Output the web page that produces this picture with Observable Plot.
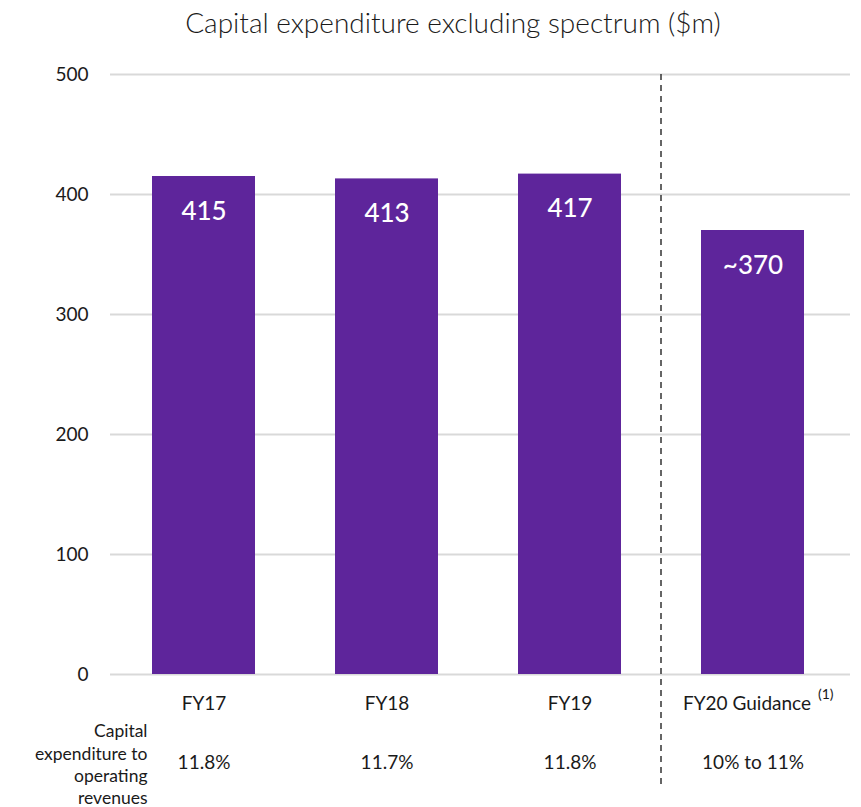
<!DOCTYPE html>
<html><head><meta charset="utf-8">
<script src="https://cdn.jsdelivr.net/npm/d3@7"></script>
<script src="https://cdn.jsdelivr.net/npm/@observablehq/plot@0.6"></script>
<style>
body{margin:0;background:#fff;font-family:Lato,"Noto Sans",sans-serif;}
#title{height:44px;line-height:44px;padding-left:45px;text-align:center;font-size:28px;font-weight:300;color:#1a1a1a;}
</style></head>
<body>
<div id="title">Capital expenditure excluding spectrum ($m)</div>
<div id="chart"></div>
<script>
const categories = ["FY17", "FY18", "FY19", "FY20 Guidance"];
const values = [415, 413, 417, 370];
const valueLabels = ["415", "413", "417", "~370"];
const ratioLabels = ["11.8%", "11.7%", "11.8%", "10% to 11%"];
const rowLabel = "Capital\nexpenditure to\noperating\nrevenues";
const footnote = "(1)";
const yTicks = [0, 100, 200, 300, 400, 500];

const data = categories.map((c, i) => ({cat: c, value: values[i], label: valueLabels[i], ratio: ratioLabels[i]}));
const purple = "#5E259B";
const ink = "#1a1a1a";

const plot = Plot.plot({
  width: 861,
  height: 763,
  marginTop: 30,
  marginBottom: 133,
  marginLeft: 110,
  marginRight: 11,
  style: {fontFamily: "Lato, 'Noto Sans', sans-serif", color: ink, background: "#fff"},
  x: {domain: categories, paddingInner: 0.435, paddingOuter: 0.2284, align: 0.48, axis: null},
  y: {domain: [0, 500], axis: null},
  marks: [
    Plot.ruleY(yTicks, {stroke: "#d9d9d9", strokeWidth: 2}),
    Plot.axisY(yTicks, {tickSize: 0, tickPadding: 22, fontSize: 19, fill: ink, label: null}),
    Plot.barY(data, {x: "cat", y: "value", fill: purple}),
    Plot.text(data, {x: "cat", y: "value", text: "label", dy: 35, fill: "white", fontSize: 26, fontWeight: 500}),
    Plot.ruleX(categories.slice(3), {x: d => d, y1: 500, y2: -92, dx: -92, stroke: "#333", strokeWidth: 1.5, strokeDasharray: "6,5"}),
    Plot.text(data.slice(0, 3), {x: "cat", y: 0, text: "cat", dy: 29, fontSize: 19, fill: ink}),
    Plot.text(data.slice(3), {x: "cat", y: 0, text: "cat", dy: 29, dx: -6, fontSize: 19, fill: ink}),
    Plot.text(data.slice(3), {x: "cat", y: 0, text: () => footnote, dy: 20, dx: 65, textAnchor: "start", fontSize: 14, fill: ink}),
    Plot.text(data, {x: "cat", y: 0, text: "ratio", dy: 88, fontSize: 19, fill: ink}),
    Plot.text([rowLabel], {frameAnchor: "bottom-left", text: d => d, textAnchor: "end", lineAnchor: "middle", dx: 37, dy: 89, fontSize: 17.5, lineHeight: 1.26, fill: ink})
  ]
});
document.getElementById("chart").appendChild(plot);
</script>
</body></html>
